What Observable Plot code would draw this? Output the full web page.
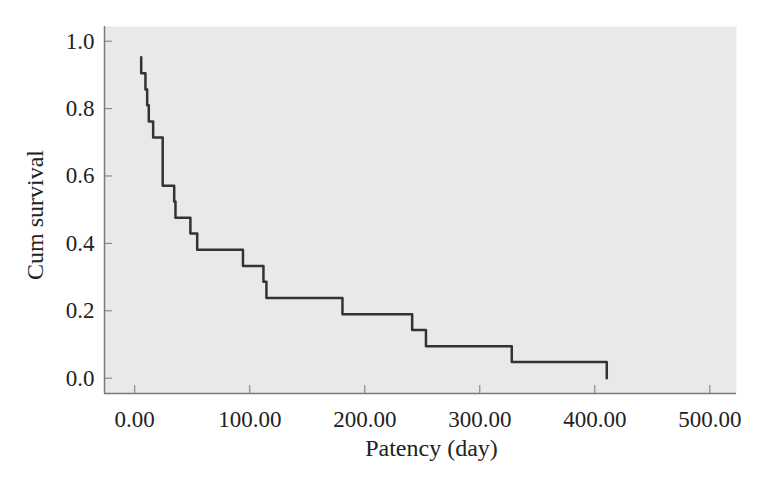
<!DOCTYPE html>
<html>
<head>
<meta charset="utf-8">
<script src="https://cdn.jsdelivr.net/npm/d3@7"></script>
<script src="https://cdn.jsdelivr.net/npm/@observablehq/plot@0.6"></script>
<style>
  html, body { margin: 0; padding: 0; background: #ffffff; }
</style>
</head>
<body>
<div id="chart"></div>
<script>
// Event times (days) and cumulative survival after each step
const times    = [5.6, 5.6, 9.3, 10.8, 12.2, 16.0, 24.3, 34.3, 35.4, 48.4, 54.3, 94.1, 111.9, 114.5, 180.6, 241.2, 253.2, 327.8, 410.4];
const survival = [0.952, 0.905, 0.857, 0.810, 0.762, 0.714, 0.571, 0.524, 0.476, 0.429, 0.381, 0.333, 0.286, 0.238, 0.190, 0.143, 0.095, 0.048, 0.0];
const xTicks = [0, 100, 200, 300, 400, 500];
const yTicks = [0, 0.2, 0.4, 0.6, 0.8, 1.0];
const xDomain = [-26.3, 523.2];
const yDomain = [-0.0454, 1.0436];
const xTitle = "Patency (day)";
const yTitle = "Cum survival";

const curve = times.map((t, i) => ({t, s: survival[i]}));
const axisColor = "#7a7a7a";
const font = "'Liberation Serif', 'DejaVu Serif', serif";

const chart = Plot.plot({
  width: 759,
  height: 489,
  marginLeft: 104,
  marginRight: 23,
  marginTop: 26,
  marginBottom: 96,
  style: {fontFamily: font, fontSize: "23px", background: "#ffffff", color: "#222"},
  x: {domain: xDomain},
  y: {domain: yDomain},
  marks: [
    Plot.frame({fill: "#e9e9e9", stroke: null}),
    Plot.ruleY([yDomain[0]], {stroke: axisColor, strokeWidth: 1.5}),
    Plot.ruleX([xDomain[0]], {stroke: axisColor, strokeWidth: 1.5}),
    Plot.axisX({ticks: xTicks, tickFormat: d3.format(".2f"), tickSize: -8, tickPadding: 25, stroke: axisColor, fill: "#222", label: null}),
    Plot.axisY({ticks: yTicks, tickFormat: d3.format(".1f"), tickSize: -8, tickPadding: 18, stroke: axisColor, fill: "#222", label: null}),
    Plot.line(curve, {x: "t", y: "s", curve: "step-after", stroke: "#333", strokeWidth: 2.5}),
    Plot.text([xTitle], {frameAnchor: "bottom", dx: 11, dy: 55, lineAnchor: "middle", textAnchor: "middle", fill: "#222", fontSize: 24}),
    Plot.text([yTitle], {frameAnchor: "left", rotate: -90, dx: -69, dy: 5, lineAnchor: "middle", textAnchor: "middle", fill: "#222", fontSize: 24})
  ]
});
document.getElementById("chart").append(chart);
</script>
</body>
</html>
